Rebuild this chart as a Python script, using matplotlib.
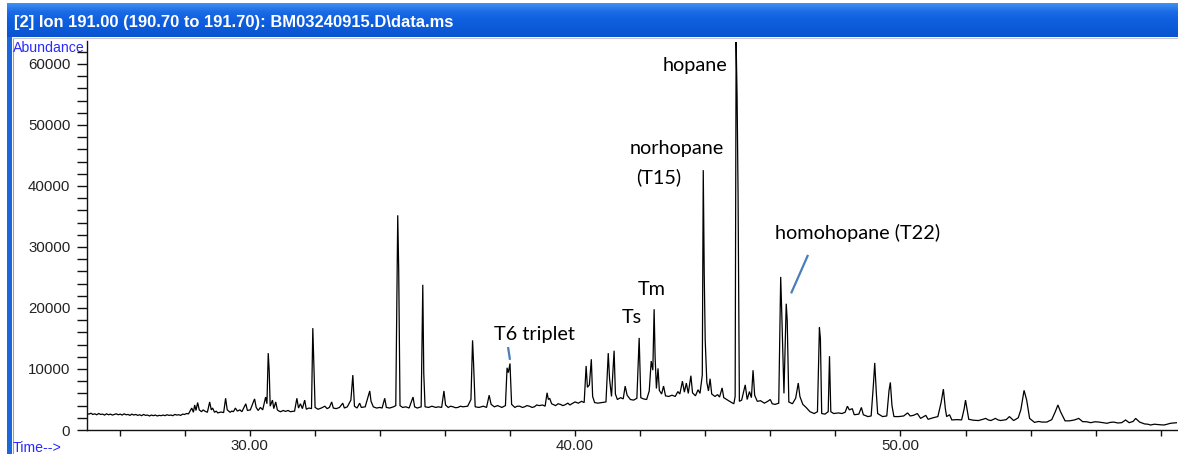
import matplotlib
matplotlib.use("Agg")
import matplotlib.pyplot as plt
import numpy as np
from matplotlib.patches import Rectangle
from matplotlib.lines import Line2D
from matplotlib.colors import LinearSegmentedColormap
from matplotlib.ticker import FixedLocator, MultipleLocator, FuncFormatter

# ---------------------------------------------------------------
# Ion 191 chromatogram: (retention time [min], abundance) vertices
# ---------------------------------------------------------------
early_trace = [
    (25.00, 2700), (25.06, 2600), (25.12, 2750), (25.18, 2550), (25.24, 2650),
    (25.30, 2500), (25.36, 2700), (25.42, 2550), (25.48, 2600), (25.54, 2450),
    (25.60, 2650), (25.66, 2500), (25.72, 2600), (25.78, 2450), (25.84, 2550),
    (25.90, 2650), (25.96, 2500), (26.02, 2600), (26.08, 2450), (26.14, 2650),
    (26.20, 2500), (26.26, 2550), (26.32, 2400), (26.38, 2600), (26.44, 2450),
    (26.50, 2550), (26.56, 2400), (26.62, 2500), (26.68, 2350), (26.74, 2550),
    (26.80, 2400), (26.86, 2450), (26.92, 2300), (26.98, 2450), (27.04, 2350),
    (27.10, 2450), (27.16, 2300), (27.22, 2400), (27.28, 2350), (27.34, 2450),
    (27.40, 2350), (27.46, 2500), (27.52, 2400), (27.58, 2450), (27.64, 2350),
    (27.70, 2550), (27.76, 2450), (27.82, 2500), (27.88, 2400), (27.94, 2600),
    (28.00, 2550), (28.06, 2700), (28.12, 2650), (28.22, 3600), (28.27, 2900),
    (28.31, 4100), (28.35, 3200), (28.40, 4500), (28.45, 3300), (28.52, 3000),
    (28.57, 3300), (28.62, 3100), (28.70, 2900), (28.77, 4600), (28.82, 3300),
    (28.86, 3600), (28.92, 2900), (28.97, 3100), (29.02, 2800), (29.12, 2950),
    (29.20, 2850), (29.26, 5200), (29.31, 3300), (29.40, 2900), (29.45, 3100),
    (29.50, 3000), (29.56, 3600), (29.62, 3100), (29.70, 3300), (29.76, 3000),
    (29.88, 4300), (29.93, 3200),
]

tricyclic_region = [
    (30.02, 3300), (30.15, 5100), (30.20, 3700), (30.26, 3200), (30.33, 3700),
    (30.40, 3300), (30.49, 5400), (30.53, 4300), (30.57, 12600), (30.60, 9700),
    (30.63, 3900), (30.70, 4900), (30.74, 3500), (30.80, 4600), (30.85, 3300),
    (30.90, 3100), (30.95, 3000), (31.03, 3200), (31.10, 3050), (31.18, 3200),
    (31.25, 3000), (31.38, 3100), (31.45, 5200), (31.50, 3600), (31.56, 4300),
    (31.62, 3500), (31.69, 4900), (31.74, 3400), (31.82, 3600), (31.90, 3500),
    (31.94, 16700), (31.97, 11000), (32.01, 3700), (32.10, 3400), (32.20, 3600),
    (32.31, 3900), (32.38, 3500), (32.45, 3700), (32.52, 4600), (32.57, 3600),
    (32.66, 3500), (32.76, 3700), (32.86, 4400), (32.91, 3600), (33.00, 3800),
    (33.11, 4900), (33.17, 9000), (33.22, 3900), (33.30, 3600), (33.38, 4400),
    (33.43, 3700), (33.55, 3800), (33.69, 6400), (33.73, 4700), (33.80, 3800),
    (33.90, 3600), (34.00, 3700), (34.07, 3600), (34.15, 5200), (34.20, 3700),
    (34.30, 3600), (34.42, 3800), (34.49, 4000), (34.55, 35200), (34.58, 26200),
    (34.62, 4000), (34.70, 3700), (34.80, 3800), (34.90, 3600), (35.02, 5400),
    (35.07, 3800), (35.15, 3600), (35.27, 3800), (35.32, 23800), (35.35, 9300),
    (35.39, 3800), (35.50, 3700), (35.60, 3900), (35.72, 3700), (35.80, 3800),
    (35.90, 3700), (35.97, 6400), (36.02, 4100), (36.10, 3700), (36.18, 3900),
    (36.25, 3800), (36.33, 3650), (36.40, 3700), (36.48, 3900), (36.55, 3800),
    (36.70, 3900), (36.80, 5000), (36.85, 14700), (36.88, 11000), (36.93, 3800),
    (37.05, 3700), (37.18, 3900), (37.28, 3700), (37.36, 5700), (37.42, 4200),
    (37.52, 3800), (37.62, 4000), (37.75, 3700), (37.86, 4000), (37.91, 10200),
    (37.95, 9400), (38.00, 10900), (38.05, 4200), (38.15, 3700), (38.22, 3900),
    (38.30, 3900), (38.38, 3700), (38.45, 3800), (38.52, 4000), (38.60, 3900),
    (38.68, 3700), (38.75, 3800), (38.82, 4100), (38.90, 4000), (39.00, 4100),
    (39.08, 3900), (39.14, 6100), (39.18, 5000), (39.22, 5200), (39.28, 4300),
    (39.40, 4000), (39.48, 4300), (39.55, 4200), (39.62, 4000), (39.68, 4100),
    (39.78, 4400), (39.84, 4100), (39.90, 4300),
]

hopane_region = [
    (40.00, 4600), (40.10, 4400), (40.20, 4700), (40.28, 4500), (40.34, 10500),
    (40.38, 7000), (40.44, 7400), (40.50, 11600), (40.54, 5500), (40.60, 4500),
    (40.70, 4400), (40.82, 4500), (40.95, 4600), (41.02, 12600), (41.06, 8400),
    (41.12, 5500), (41.20, 13000), (41.24, 5900), (41.30, 5000), (41.40, 5300),
    (41.48, 5100), (41.54, 7200), (41.60, 5700), (41.70, 5000), (41.80, 4900),
    (41.90, 5200), (41.97, 15100), (42.02, 5300), (42.10, 5100), (42.20, 5000),
    (42.28, 6400), (42.34, 11300), (42.39, 9800), (42.43, 19800), (42.46, 12000),
    (42.50, 6800), (42.55, 10100), (42.59, 6500), (42.66, 5900), (42.72, 7200),
    (42.78, 5600), (42.88, 5500), (42.98, 5700), (43.08, 5500), (43.16, 6300),
    (43.22, 5900), (43.30, 8000), (43.36, 6200), (43.42, 7700), (43.48, 6000),
    (43.56, 8900), (43.61, 6100), (43.70, 5600), (43.78, 6600), (43.84, 6000),
    (43.91, 9000), (43.94, 42600), (43.97, 25500), (44.00, 14700), (44.05, 7800),
    (44.10, 6400), (44.15, 8400), (44.20, 5900), (44.30, 5500), (44.38, 5800),
    (44.44, 5400), (44.52, 6900), (44.57, 5300), (44.66, 5000), (44.78, 4600),
    (44.88, 4300), (44.92, 5500), (44.95, 63600), (44.98, 54600), (45.01, 38500),
    (45.05, 4700), (45.12, 4900), (45.23, 7400), (45.29, 5000), (45.36, 6300),
    (45.42, 5300), (45.47, 9800), (45.52, 5700), (45.60, 4700), (45.70, 4800),
    (45.82, 4400), (45.92, 4700), (46.00, 5000), (46.06, 4300), (46.15, 4200),
    (46.26, 4400), (46.32, 25100), (46.35, 19700), (46.42, 6000), (46.49, 20700),
    (46.52, 18000), (46.57, 4600), (46.68, 4300), (46.78, 5200), (46.86, 7700),
    (46.91, 5500), (47.00, 4200), (47.10, 3700), (47.22, 3000), (47.35, 2700),
    (47.45, 3000),
]

late_trace = [
    (47.51, 16800), (47.54, 15000), (47.58, 2700), (47.68, 2600), (47.78, 3000),
    (47.82, 12100), (47.86, 3000), (47.95, 2700), (48.10, 2800), (48.20, 2700),
    (48.30, 2900), (48.37, 3900), (48.43, 3300), (48.52, 3500), (48.58, 2500),
    (48.72, 2600), (48.80, 3700), (48.86, 2500), (49.00, 2200), (49.10, 2300),
    (49.17, 7500), (49.21, 11000), (49.26, 6000), (49.30, 2700), (49.45, 2200),
    (49.58, 2300), (49.65, 6500), (49.69, 7800), (49.74, 4000), (49.80, 2200),
    (49.95, 2200), (50.10, 2300), (50.22, 2800), (50.30, 2300), (50.40, 2400),
    (50.52, 2700), (50.62, 1900), (50.78, 2400), (50.85, 1750), (51.00, 2000),
    (51.15, 2200), (51.25, 4500), (51.32, 6700), (51.38, 3500), (51.42, 2200),
    (51.51, 2500), (51.58, 1650), (51.75, 1700), (51.88, 1650), (51.96, 3500),
    (52.00, 4900), (52.06, 3000), (52.10, 1750), (52.25, 1600), (52.40, 1550),
    (52.50, 1700), (52.62, 1900), (52.70, 1650), (52.78, 1550), (52.92, 1900),
    (53.00, 1650), (53.08, 1550), (53.25, 1700), (53.35, 2200), (53.48, 1550),
    (53.62, 2000), (53.70, 3300), (53.80, 6500), (53.88, 4900), (53.97, 1900),
    (54.12, 1250), (54.25, 1400), (54.35, 1300), (54.50, 1300), (54.65, 1700),
    (54.76, 3000), (54.84, 4100), (54.92, 3000), (55.06, 1500), (55.20, 1500),
    (55.35, 1650), (55.48, 1900), (55.60, 1370), (55.72, 1350), (55.85, 1200),
    (55.98, 1350), (56.10, 1300), (56.22, 1200), (56.35, 1100), (56.45, 1250),
    (56.55, 1300), (56.68, 1150), (56.80, 1200), (56.92, 1640), (57.03, 1200),
    (57.15, 1400), (57.23, 1900), (57.35, 1300), (57.50, 1000), (57.60, 950),
    (57.69, 820), (57.80, 950), (57.90, 900), (58.00, 850), (58.10, 820),
    (58.20, 950), (58.30, 1100), (58.40, 1150), (58.50, 1200),
]

# Peak labels: (text, left x [min], y centre [abundance])
peak_labels = [
    ("hopane", 42.68, 59700),
    ("norhopane", 41.69, 46100),
    ("(T15)", 41.88, 41500),
    ("homohopane (T22)", 46.15, 32300),
    ("Tm", 41.94, 23100),
    ("Ts", 41.45, 18400),
    ("T6 triplet", 37.51, 15600),
]
# Leader lines: ((x0, y0), (x1, y1))
leader_lines = [
    ((37.94, 13600), (38.00, 11500)),
    ((47.16, 28700), (46.64, 22400)),
]

title_text = r"[2] Ion 191.00 (190.70 to 191.70): BM03240915.D\data.ms"
x_major = [30, 40, 50]
x_minor = list(range(26, 59, 2))
y_major = list(range(0, 60001, 10000))

# ---------------------------------------------------------------
W, H = 1178, 454
fig = plt.figure(figsize=(W / 100, H / 100), dpi=100)
fig.patch.set_facecolor("white")

trace = early_trace + tricyclic_region + hopane_region + late_trace
rt = [p[0] for p in trace]
ab = [p[1] for p in trace]

ax = fig.add_axes([87 / W, 24 / H, 1090 / W, 389.2 / H])
ax.plot(rt, ab, color="black", lw=0.9, solid_joinstyle="miter")
ax.set_xlim(25, 58.5)
ax.set_ylim(0, 63800)

for s in ("top", "right"):
    ax.spines[s].set_visible(False)
for s in ("left", "bottom"):
    ax.spines[s].set_color("#111111")
    ax.spines[s].set_linewidth(1.0)

ax.xaxis.set_major_locator(FixedLocator(x_major))
ax.xaxis.set_minor_locator(FixedLocator(x_minor))
ax.xaxis.set_major_formatter(FuncFormatter(lambda v, p: f"{v:.2f}"))
ax.yaxis.set_major_locator(FixedLocator(y_major))
ax.yaxis.set_minor_locator(MultipleLocator(2000))
ax.yaxis.set_major_formatter(FuncFormatter(lambda v, p: f"{int(v)}"))
ax.tick_params(axis="x", which="both", direction="out", length=4.3, width=1,
               color="#111111", pad=2.5, labelcolor="#222222")
ax.tick_params(axis="y", which="both", direction="out", length=7, width=1,
               color="#111111", pad=5, labelcolor="#222222")
for lab in ax.get_xticklabels() + ax.get_yticklabels():
    lab.set_fontfamily("Liberation Sans")
    lab.set_fontsize(10.8)

for text, x, y in peak_labels:
    ax.text(x, y, text, fontsize=14.3, family="Lato", color="black",
            ha="left", va="center")
for (x0, y0), (x1, y1) in leader_lines:
    ax.plot([x0, x1], [y0, y1], color="#4a7ebb", lw=1.6, solid_capstyle="butt")

# window title bar
bar = fig.add_axes([7 / W, 417 / H, 1171 / W, 34 / H])
cmap = LinearSegmentedColormap.from_list(
    "bar", ["#3f8ef2", "#1b6ae6", "#0f5fdf", "#0c5ad8", "#0a54cf"])
bar.imshow(np.linspace(0, 1, 34).reshape(-1, 1), aspect="auto", cmap=cmap,
           extent=[0, 1, 0, 1])
bar.set_axis_off()
fig.text(14 / W, (H - 23) / H, title_text, color="white", fontsize=11.9,
         fontweight="bold", family="Liberation Sans", va="center", ha="left")

# window frame
fig.add_artist(Rectangle((7 / W, 0), 5 / W, 417 / H, transform=fig.transFigure,
                         facecolor="#1a66dc", edgecolor="none"))
fig.add_artist(Line2D([12.5 / W, 12.5 / W], [0, 416 / H], transform=fig.transFigure,
                      color="#a0a0a0", lw=0.8))
fig.add_artist(Line2D([12.5 / W, 1], [416 / H, 416 / H], transform=fig.transFigure,
                      color="#c8c8c8", lw=0.8))

blue = "#2a2aff"
fig.text(13 / W, (H - 48) / H, "Abundance", color=blue, fontsize=10.2,
         family="Liberation Sans", va="center", ha="left")
fig.text(13 / W, (H - 448) / H, "Time-->", color=blue, fontsize=10.2,
         family="Liberation Sans", va="center", ha="left")

fig.savefig("out.png", dpi=100)
